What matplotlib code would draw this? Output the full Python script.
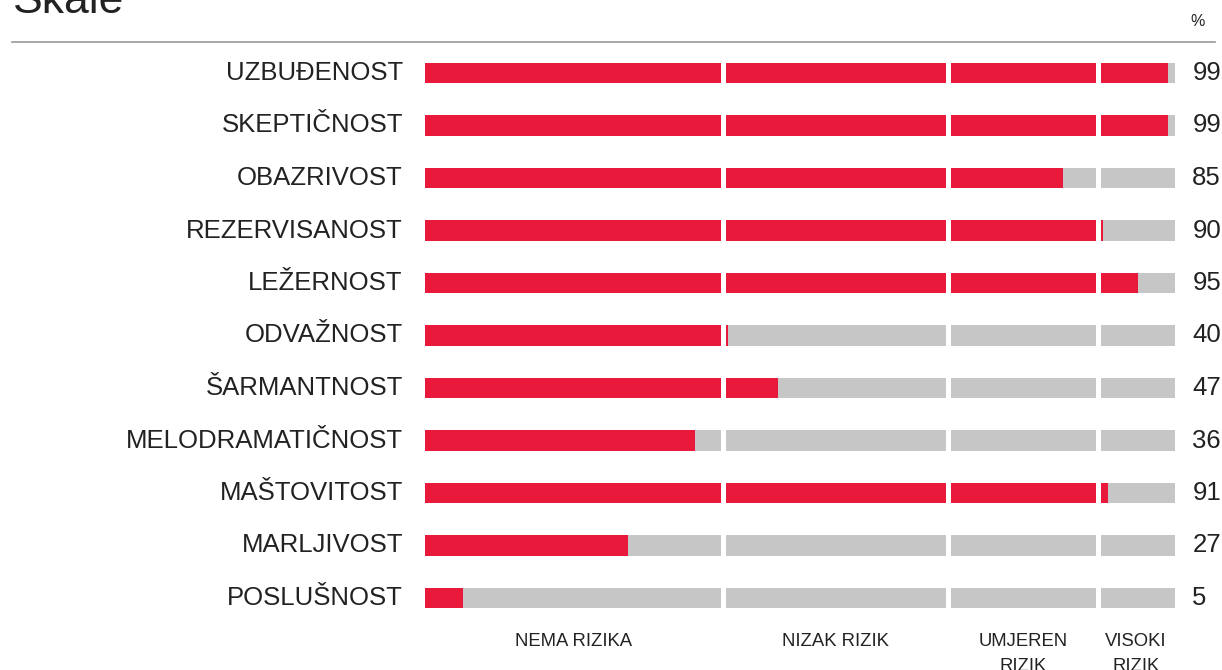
import matplotlib
matplotlib.use("Agg")
import matplotlib.pyplot as plt
from matplotlib.lines import Line2D

# data
scales = ["UZBUĐENOST", "SKEPTIČNOST", "OBAZRIVOST", "REZERVISANOST", "LEŽERNOST",
          "ODVAŽNOST", "ŠARMANTNOST", "MELODRAMATIČNOST", "MAŠTOVITOST",
          "MARLJIVOST", "POSLUŠNOST"]
values = [99, 99, 85, 90, 95, 40, 47, 36, 91, 27, 5]
zone_edges = [0, 40, 70, 90, 100]
zone_labels = ["NEMA RIZIKA", "NIZAK RIZIK", "UMJEREN\nRIZIK", "VISOKI\nRIZIK"]

RED = "#e8193a"
GREY = "#c6c6c6"
TXT = "#222222"

plt.rcParams["font.family"] = ["Liberation Sans", "DejaVu Sans"]

W, H = 1222, 670
fig = plt.figure(figsize=(W / 100, H / 100), dpi=100)

# axes: x 0..100 -> px 425..1175 ; row i centre at 73 + 52.5 i
row0, step = 73, 52.5
top_px = row0 - step / 2
bot_px = row0 + step * 10.5
ax = fig.add_axes([425 / W, 1 - bot_px / H, 750 / W, (bot_px - top_px) / H])
ax.set_xlim(0, 100)
ax.set_ylim(10.5, -0.5)
ax.axis("off")

bar_h = 20.5 / step
for i, (name, v) in enumerate(zip(scales, values)):
    for lo, hi in zip(zone_edges[:-1], zone_edges[1:]):
        start = lo + 0.12 if lo > 0 else lo
        end = hi - 0.55 if hi < 100 else hi
        ax.barh(i, end - start, left=start, height=bar_h, color=GREY, linewidth=0)
        if v >= lo:
            w = min(v, end) - start
            ax.barh(i, max(w, 0.33), left=start, height=bar_h, color=RED, linewidth=0)
    ax.text(-2.95, i, name, ha="right", va="center", fontsize=18.5, color=TXT, clip_on=False)
    ax.text(102.3, i, str(v), ha="left", va="center", fontsize=18.5, color=TXT, clip_on=False)

# zone labels under the bars
for lo, hi, lab in zip(zone_edges[:-1], zone_edges[1:], zone_labels):
    xc = (lo + hi - 0.5) / 2
    for j, line in enumerate(lab.split("\n")):
        ax.text(xc, 10.83 + j * 0.48, line, ha="center", va="center",
                fontsize=13.3, color=TXT, clip_on=False)

# header
fig.text(13 / W, 1 - 13 / H, "Skale", fontsize=32, color=TXT, ha="left", va="baseline")
fig.text(1198 / W, 1 - 22 / H, "%", fontsize=11.5, color=TXT, ha="center", va="center")
fig.add_artist(Line2D([12 / W, 1215 / W], [1 - 42 / H, 1 - 42 / H],
                      transform=fig.transFigure, color="#999999", linewidth=1.2))

fig.savefig("out.png", dpi=100, facecolor="white")
